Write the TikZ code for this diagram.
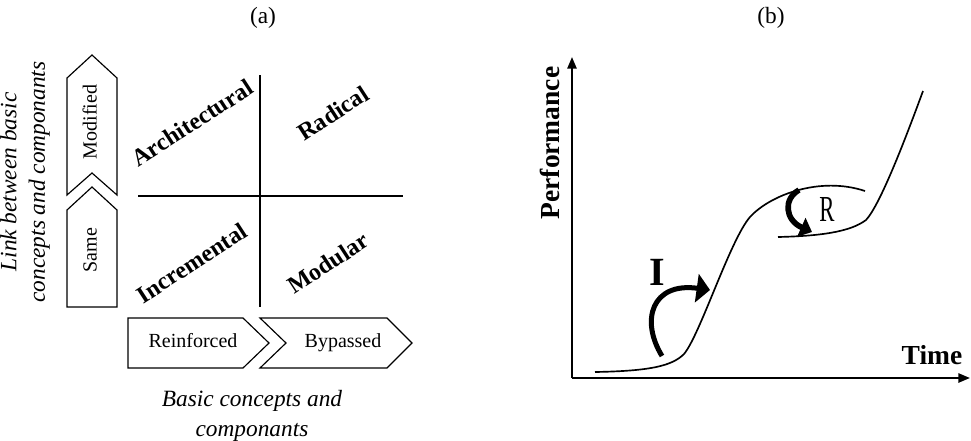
\documentclass[tikz,border=0pt]{standalone}
\usepackage{fontspec}
\setmainfont{Liberation Serif}
\usepackage{tikz}
\usetikzlibrary{arrows.meta}
\tikzstyle{chevron}=[draw, line width=0.7pt, fill=white]
\tikzstyle{boxtext}=[text height=1.6ex, text depth=0.4ex]
\tikzstyle{quadrant}=[font=\fontsize{14.5}{16}\selectfont\bfseries, rotate=33]
\tikzstyle{caption}=[font=\fontsize{14}{17}\selectfont]
\tikzstyle{axistitle}=[font=\fontsize{16.5}{18}\selectfont\bfseries]
\tikzstyle{axis}=[line width=1.3pt, -{Triangle[length=7pt,width=5.5pt]}]
\tikzstyle{scurve}=[line width=1pt]
\tikzstyle{turn}=[line width=3pt, -{Triangle[length=8pt,width=17pt]}]

\begin{document}
\begin{tikzpicture}[x=0.6pt, y=-0.6pt, font=\fontsize{12}{14}\selectfont]
	\useasboundingbox (0,0) rectangle (971,440);
	\node[caption] (capa) at (263,18) {(a)};
	\node[caption] (capb) at (771,18) {(b)};

	% (a): the two axis chevrons
	\draw[chevron] (67,78) -- (92,55) -- (117,78) -- (117,195) -- (92,173) -- (67,195) -- cycle;
	\node[boxtext, rotate=90] (modified) at (92,122) {Modified};
	\draw[chevron] (67,210) -- (92,187) -- (117,210) -- (117,307) -- (67,307) -- cycle;
	\node[boxtext, rotate=90] (same) at (92,250) {Same};
	\draw[chevron] (128,318) -- (243,318) -- (269,343) -- (243,368) -- (128,368) -- cycle;
	\node[boxtext] (reinforced) at (193,343) {Reinforced};
	\draw[chevron] (260,318) -- (387,318) -- (412,343) -- (387,368) -- (260,368) -- (286,343) -- cycle;
	\node[boxtext] (bypassed) at (343,343) {Bypassed};

	% (a): quadrants
	\coordinate (qtop) at (260,75);
	\coordinate (qbot) at (260,307);
	\coordinate (qleft) at (138,196);
	\coordinate (qright) at (403,196);
	\draw[line width=0.7pt] (qtop) -- (qbot);
	\draw[line width=0.7pt] (qleft) -- (qright);
	\node[quadrant] (archi) at (192,123) {Architectural};
	\node[quadrant] (radical) at (333,113) {Radical};
	\node[quadrant] (incr) at (192,263) {Incremental};
	\node[quadrant] (modular) at (328,263) {Modular};

	\node[caption, font=\fontsize{14}{17}\selectfont\itshape, rotate=90, align=center] (linklabel) at (25,182) {Link between basic\\concepts and componants};
	\node[caption, font=\fontsize{14}{18}\selectfont\itshape, align=center] (basiclabel) at (252,416) {Basic concepts and\\componants};

	% (b): performance over time
	\coordinate (origin) at (572,378);
	\coordinate (ytip) at (572,57);
	\coordinate (xtip) at (970,378);
	\draw[axis] (origin) -- (ytip);
	\draw[axis] (origin) -- (xtip);
	\node[axistitle, rotate=90] (perf) at (550,143) {Performance};
	\node[axistitle] (time) at (932,355) {Time};

	\draw[scurve] (595,372) .. controls (650,371) and (672,366) .. (684,354)
		.. controls (700,335) and (730,240) .. (750,217)
		.. controls (770,195) and (820,176) .. (865,191);
	\draw[scurve] (778,237) .. controls (820,236) and (850,232) .. (866,220)
		.. controls (880,205) and (905,140) .. (923,91);

	\draw[turn] (662,356) .. controls (640,320) and (652,282) .. (710,290);
	\node[font=\fontsize{24}{26}\selectfont\bfseries] (ilabel) at (657,272) {I};
	\draw[line width=3.4pt, -{Triangle[length=7pt,width=12pt]}] (799,190) .. controls (783,199) and (785,220) .. (812,232);
	\node[font=\fontsize{22}{24}\selectfont] (rlabel) at (827,209) {\scalebox{0.62}[1]{R}};
\end{tikzpicture}
\end{document}
